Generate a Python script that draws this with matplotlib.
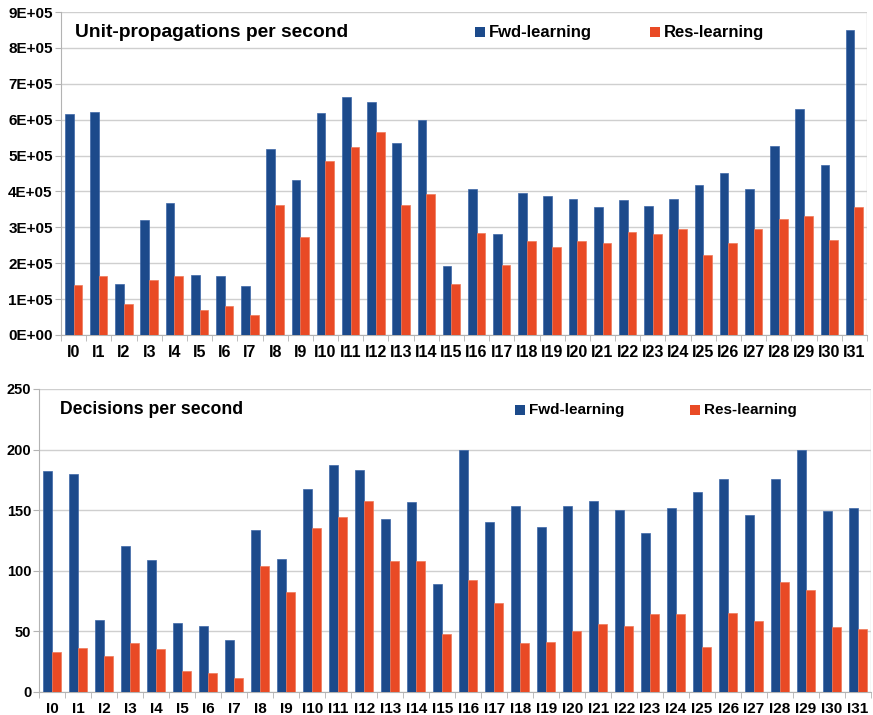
import matplotlib.pyplot as plt
from matplotlib.patches import Rectangle
import numpy as np

plt.rcParams['font.family'] = ['Liberation Sans', 'DejaVu Sans']
plt.rcParams['font.weight'] = 'bold'

labels = ['I%d' % i for i in range(32)]

props_fwd = [616000, 620000, 142000, 321000, 368000, 166000, 163000, 137000,
             518000, 431000, 619000, 664000, 650000, 535000, 600000, 192000,
             407000, 281000, 397000, 387000, 380000, 357000, 377000, 360000,
             378000, 419000, 450000, 406000, 527000, 629000, 475000, 851000]
props_res = [139000, 164000, 86000, 153000, 164000, 69000, 81000, 56000,
             362000, 272000, 485000, 524000, 566000, 362000, 393000, 141000,
             284000, 195000, 261000, 246000, 263000, 255000, 287000, 281000,
             296000, 222000, 257000, 295000, 323000, 331000, 264000, 358000]

dec_fwd = [182.6, 180.1, 59.7, 120.2, 109.2, 57.2, 54.2, 42.6,
           133.7, 110.0, 167.2, 187.0, 182.9, 142.5, 157.0, 89.1,
           200.0, 140.3, 153.5, 136.4, 153.2, 157.9, 150.4, 130.9,
           151.5, 164.7, 175.5, 146.0, 175.5, 200.0, 149.6, 152.1]
dec_res = [33.3, 36.6, 29.4, 40.2, 35.8, 17.3, 16.0, 11.3,
           103.7, 82.8, 135.0, 144.7, 157.3, 107.8, 108.4, 47.9,
           92.1, 73.2, 40.4, 41.0, 50.0, 56.1, 54.5, 64.4,
           64.4, 37.1, 64.9, 58.9, 90.8, 84.2, 53.4, 52.3]

BLUE = '#1c4a8b'
ORANGE = '#e94a25'
GRID = '#cfcfcf'

fig = plt.figure(figsize=(8.73, 7.15), dpi=100)
ax1 = fig.add_axes([0.0699, 0.5315, 0.9232, 0.4517])
ax2 = fig.add_axes([0.0452, 0.0322, 0.9525, 0.4238])


def draw(ax, fwd, res, ymax, step, fmt, title, ty, tx, tsize,
         lx1, lx2, lsize, ysize, xsize, sq):
    x = np.arange(len(labels))
    w = 0.345
    ax.bar(x - w / 2, fwd, w, color=BLUE, edgecolor='#3d67a8', linewidth=0.5,
           label='Fwd-learning', zorder=3)
    ax.bar(x + w / 2, res, w, color=ORANGE, edgecolor='#f07a5a', linewidth=0.5,
           label='Res-learning', zorder=3)
    ax.set_xlim(-0.5, len(labels) - 0.5)
    ax.set_ylim(0, ymax)
    ticks = np.arange(0, ymax + step / 2, step)
    ax.set_yticks(ticks)
    ax.set_yticklabels([fmt(t) for t in ticks], fontsize=ysize, fontweight='bold')
    ax.set_xticks(x)
    ax.set_xticklabels(labels, fontsize=xsize, fontweight='bold')
    ax.set_xticks(np.arange(-0.5, len(labels), 1), minor=True)
    ax.tick_params(axis='x', which='major', length=0, pad=7)
    ax.tick_params(axis='x', which='minor', length=4, color='#b3b3b3')
    ax.tick_params(axis='y', length=4, color='#b3b3b3', pad=2)
    ax.grid(axis='y', color=GRID, linewidth=1, zorder=0)
    for s in ['top', 'right']:
        ax.spines[s].set_visible(False)
    ax.spines['left'].set_color('#b3b3b3')
    ax.spines['bottom'].set_color('#b3b3b3')
    ax.axvline(len(labels) - 0.5, color=GRID, linewidth=1, zorder=0)
    ax.text(tx, ty, title, transform=ax.transAxes, fontsize=tsize,
            fontweight='bold', va='center')
    # legend: coloured square followed by the series name
    sw, sh = sq
    for lx, c, name in [(lx1, BLUE, 'Fwd-learning'), (lx2, ORANGE, 'Res-learning')]:
        ax.add_patch(Rectangle((lx, ty - sh / 2), sw, sh, transform=ax.transAxes,
                               facecolor=c, edgecolor='none', clip_on=False))
        ax.text(lx + sw * 1.4, ty, name, transform=ax.transAxes,
                fontsize=lsize, fontweight='bold', va='center')


draw(ax1, props_fwd, props_res, 900000, 100000,
     lambda t: '%dE+05' % (t // 100000) if t else '0E+00',
     'Unit-propagations per second', 0.938, 0.0174, 13.9,
     0.5136, 0.7308, 12, 11, 11.5, (0.0124, 0.031))
draw(ax2, dec_fwd, dec_res, 250, 50, lambda t: '%d' % t,
     'Decisions per second', 0.931, 0.0247, 12.7,
     0.5718, 0.7824, 11, 10.5, 11, (0.012, 0.033))

fig.savefig('out.png', dpi=100)
